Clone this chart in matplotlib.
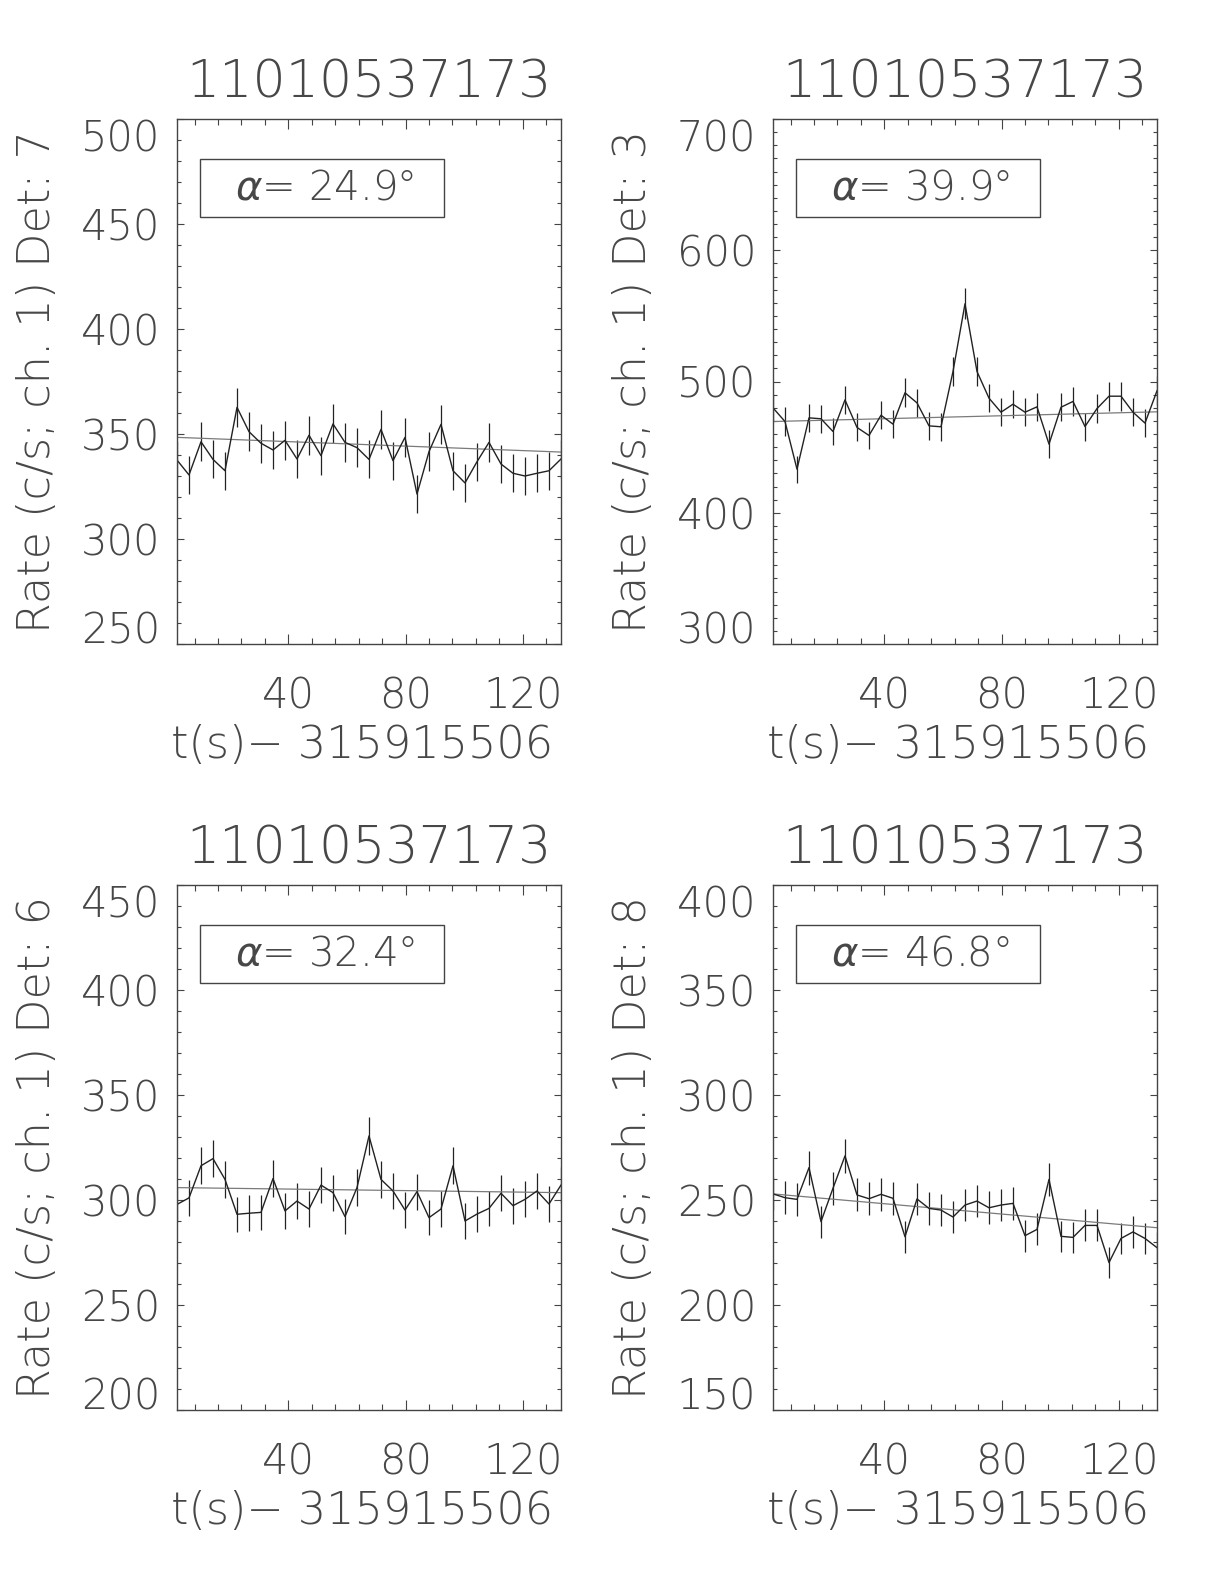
import numpy as np
import matplotlib
matplotlib.use("Agg")
import matplotlib.pyplot as plt
from matplotlib.patches import Rectangle
from matplotlib.ticker import MultipleLocator, FixedLocator

# CSPEC bins, 4.096 s wide
bin_width = 4.096
t_start = 2.0
n_bins = 33

title = "11010537173"
xlabel = "t(s)\u2212 315915506"

dets = [7, 3, 6, 8]
angles = [24.9, 39.9, 32.4, 46.8]
ylims = [(250, 500), (300, 700), (200, 450), (150, 400)]
ymajor = [50, 100, 50, 50]

rate_det7 = [337.6, 330.5, 346.3, 337.9, 332.5, 362.7, 351.1, 345.6, 342.4, 347.0,
             338.1, 349.4, 339.7, 354.8, 346.0, 343.5, 337.9, 352.2, 337.3, 348.4,
             321.4, 341.6, 354.6, 332.5, 326.7, 336.8, 346.0, 335.7, 331.3, 330.0,
             331.3, 332.5, 338.1]
rate_det3 = [479.9, 469.5, 433.2, 472.3, 471.6, 461.9, 486.0, 465.0, 458.9, 474.3,
             467.5, 491.4, 483.7, 466.2, 465.5, 507.6, 559.2, 507.6, 487.3, 476.6,
             482.7, 476.6, 480.7, 452.3, 480.4, 484.8, 465.7, 479.4, 488.8, 488.8,
             476.6, 468.3, 492.9]
rate_det6 = [297.9, 301.0, 316.3, 319.7, 309.8, 293.2, 293.7, 294.1, 310.2, 294.8,
             299.5, 295.7, 307.1, 303.5, 292.1, 305.9, 330.5, 309.8, 304.3, 295.2,
             304.0, 291.6, 295.7, 316.3, 290.0, 293.3, 296.0, 303.2, 297.3, 300.3,
             304.3, 298.1, 307.1]
rate_det8 = [252.9, 251.1, 250.3, 265.4, 239.7, 255.6, 271.0, 252.4, 250.6, 252.7,
             250.8, 232.5, 250.5, 246.0, 245.2, 241.9, 247.6, 249.5, 246.3, 247.6,
             248.4, 233.0, 236.0, 259.8, 232.7, 232.2, 237.9, 237.9, 220.2, 231.7,
             234.8, 231.7, 227.3]
rates = [rate_det7, rate_det3, rate_det6, rate_det8]

# linear background fit, value at first and last bin
fit_ends = [(348.4, 341.4), (469.5, 476.9), (305.9, 303.5), (252.9, 236.8)]

plt.rcParams['font.family'] = ['DejaVu Sans']
plt.rcParams['font.weight'] = 'light'
plt.rcParams['mathtext.fontset'] = 'custom'
plt.rcParams['mathtext.it'] = 'DejaVu Sans:italic:light'
plt.rcParams['mathtext.rm'] = 'DejaVu Sans:light'

txt_color = '#474747'
fs_tick = 30
fs_label = 32
fs_title = 37.5

fig = plt.figure(figsize=(12.24, 15.84), dpi=100)
W, H = 1224.0, 1584.0
ax_left = [177, 773]
ax_top = [119, 885]
ax_w, ax_h = 384.0, 525.0

t = t_start + bin_width * np.arange(n_bins)

axes = []
for k in range(4):
    row, col = divmod(k, 2)
    ax = fig.add_axes([ax_left[col] / W, 1 - (ax_top[row] + ax_h) / H, ax_w / W, ax_h / H])
    axes.append(ax)
    y = np.array(rates[k])
    err = np.sqrt(y / bin_width)
    ax.errorbar(t, y, yerr=err, color='#222222', lw=1.0, elinewidth=0.9, capsize=0)
    ax.plot([t[0], t[-1]], fit_ends[k], color='#7a7a7a', lw=0.9)

    ax.set_xlim(t[0], t[-1])
    ax.set_ylim(*ylims[k])
    ax.xaxis.set_major_locator(FixedLocator([40, 80, 120]))
    ax.xaxis.set_minor_locator(MultipleLocator(8))
    ax.yaxis.set_major_locator(MultipleLocator(ymajor[k]))
    ax.yaxis.set_minor_locator(MultipleLocator(10))
    ax.tick_params(which='both', direction='in', top=True, right=True,
                   colors='#444444', labelcolor=txt_color, labelsize=fs_tick)
    ax.tick_params(axis='x', which='major', length=7, width=0.8, pad=23)
    ax.tick_params(axis='x', which='minor', length=4, width=0.8)
    ax.tick_params(axis='y', which='major', length=5, width=0.8, pad=12)
    ax.tick_params(axis='y', which='minor', length=3.2, width=0.8)
    for s in ax.spines.values():
        s.set_color('#444444')
        s.set_linewidth(1.0)

    ax.text(0.5, 1 + 21 / ax_h, title, transform=ax.transAxes, ha='center',
            va='baseline', fontsize=fs_title, color=txt_color)
    ax.text(-140 / ax_w, 0.5, "Rate (c/s; ch. 1) Det: %d" % dets[k], transform=ax.transAxes,
            rotation=90, ha='center', va='center', fontsize=fs_label, color=txt_color)
    ax.text(185 / ax_w, -101 / ax_h, xlabel, transform=ax.transAxes, ha='center',
            va='center', fontsize=fs_label, color=txt_color)

    ax.add_patch(Rectangle((0.06, 0.813), 0.635, 0.111, transform=ax.transAxes,
                           fill=False, edgecolor='#444444', lw=1.0))
    ax.text(0.385, 0.868, r'$\alpha$= %.1f°' % angles[k], transform=ax.transAxes,
            ha='center', va='center', fontsize=29, color=txt_color)

# edge labels sit inside the axis range, like the original
fig.canvas.draw()
for k, ax in enumerate(axes):
    lo, hi = ylims[k]
    for tick in ax.yaxis.get_major_ticks():
        if abs(tick.get_loc() - lo) < 1e-6:
            tick.label1.set_va('baseline')
        elif abs(tick.get_loc() - hi) < 1e-6:
            tick.label1.set_va('top')

fig.savefig("out.png", dpi=100, facecolor='white')
